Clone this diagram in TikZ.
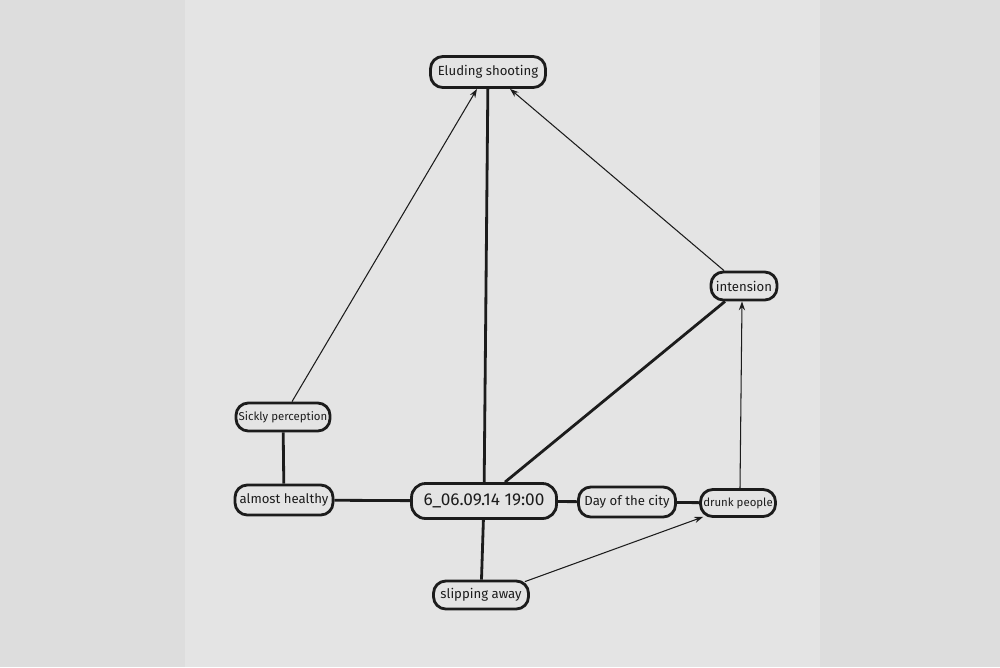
\documentclass[tikz,border=0pt]{standalone}
\usepackage{fontspec}
\setmainfont{Fira Sans}
\usetikzlibrary{arrows.meta,calc}
\definecolor{bgray}{HTML}{DDDDDD}
\definecolor{paper}{HTML}{E4E4E4}
\definecolor{ink}{HTML}{1C1C1C}
\tikzset{
  box/.style={draw=ink, line width=1.6pt, rounded corners=7pt, inner sep=0pt,
    font=\fontsize{7.5}{9}\selectfont, text=ink},
  thickline/.style={draw=ink, line width=1.6pt},
  thinarrow/.style={draw=ink, line width=0.6pt, -{Stealth[length=5pt,width=3.5pt]}}
}
\begin{document}
\begin{tikzpicture}[x=0.02cm,y=-0.02cm]
\fill[bgray] (0,0) rectangle (1000,667);
\fill[paper] (185,0) rectangle (820,667);
\useasboundingbox (0,0) rectangle (1000,667);

\node[box, minimum width=115*0.02cm, minimum height=31*0.02cm] (E) at (488,72) {Eluding shooting};
\node[box, minimum width=66*0.02cm, minimum height=28*0.02cm] (I) at (744,286) {intension};
\node[box, minimum width=94*0.02cm, minimum height=28*0.02cm, font=\fontsize{6.5}{8}\selectfont] (S) at (283,417) {Sickly perception};
\node[box, minimum width=98*0.02cm, minimum height=30*0.02cm] (A) at (284,500) {almost healthy};
\node[box, minimum width=145*0.02cm, minimum height=35*0.02cm, rounded corners=8pt, font=\fontsize{9.8}{11}\selectfont] (C) at (484,501) {6\_06.09.14 19:00};
\node[box, minimum width=97*0.02cm, minimum height=30*0.02cm] (Y) at (627,502) {Day of the city};
\node[box, minimum width=75*0.02cm, minimum height=27*0.02cm, font=\fontsize{6.5}{8}\selectfont] (D) at (738,503) {drunk people};
\node[box, minimum width=95*0.02cm, minimum height=28*0.02cm] (L) at (481,595) {slipping away};

\draw[thickline] (E) -- (C);
\draw[thickline] ($(C.north)+(21,0)$) -- ($(I.south)+(-19,0)$);
\draw[thickline] (S) -- (A);
\draw[thickline] (A) -- (C);
\draw[thickline] (C) -- (Y);
\draw[thickline] (Y) -- (D);
\draw[thickline] (C) -- (L);

\draw[thinarrow] ($(S.north)+(9,0)$) -- ($(E.south)+(-11,0)$);
\draw[thinarrow] ($(I.north)+(-20,0)$) -- ($(E.south)+(22,0)$);
\draw[thinarrow] ($(D.north)+(2,0)$) -- ($(I.south)+(-2,0)$);
\draw[thinarrow] ($(L.north east)+(-5,2)$) -- ($(D.south west)+(4,-1)$);
\end{tikzpicture}
\end{document}
